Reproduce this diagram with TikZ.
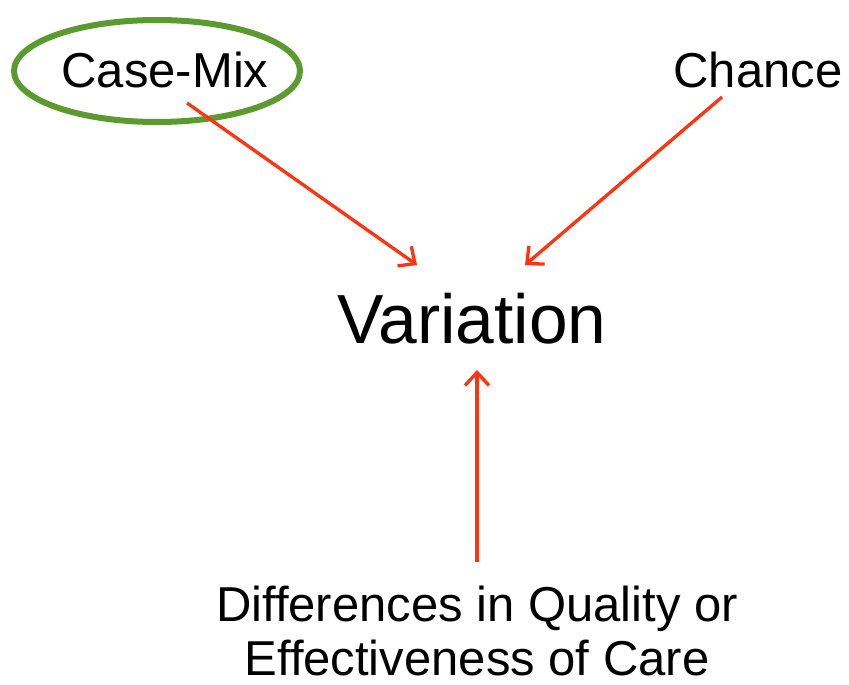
\documentclass[tikz,border=0pt]{standalone}
\usepackage{fontspec}
\setmainfont{Liberation Sans}
\usetikzlibrary{arrows.meta}
\definecolor{arrred}{HTML}{FF3311}
\definecolor{ringgreen}{HTML}{5A9A2E}
\begin{document}
\begin{tikzpicture}[x=1pt,y=-1pt,
  lbl/.style={inner sep=0pt,anchor=base,font=\fontsize{49}{55}\selectfont},
  big/.style={inner sep=0pt,anchor=base,font=\fontsize{69.5}{76}\selectfont},
  arr/.style={draw=arrred,line width=3.3pt,-{Straight Barb[length=13pt,width=24pt,line width=3.3pt]}}]
\useasboundingbox (0,0) rectangle (849,685);
\node[lbl] (cm) at (165,88) {Case-Mix};
\node[lbl] (ch) at (758,88) {Chance};
\node[big] (var) at (472,343) {Variation};
\node[lbl] (diff) at (477,621) {Differences in Quality or};
\node[lbl] (eff) at (477,675) {Effectiveness of Care};
\draw[draw=ringgreen,line width=6pt] (157,71) ellipse (143 and 51);
\coordinate (cmS) at (187,103);
\coordinate (cmE) at (417,265);
\coordinate (chS) at (722,97);
\coordinate (chE) at (525,265);
\coordinate (dfS) at (477,562);
\coordinate (dfE) at (477,370);
\draw[arr] (cmS) -- (cmE);
\draw[arr] (chS) -- (chE);
\draw[arr] (dfS) -- (dfE);
\end{tikzpicture}
\end{document}
